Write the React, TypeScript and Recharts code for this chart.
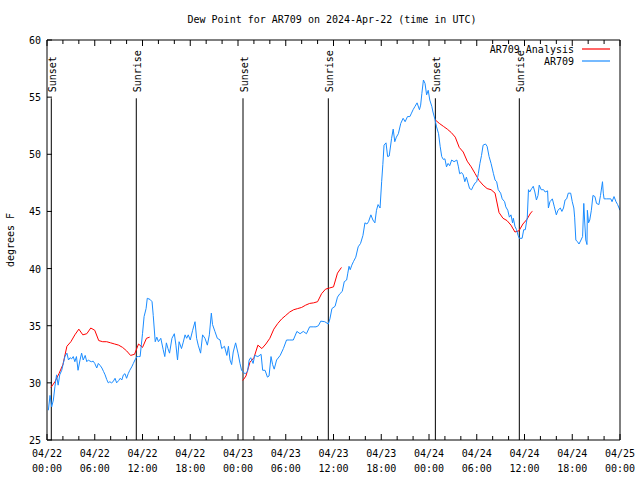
import { LineChart, Line, XAxis, YAxis, ReferenceLine } from 'recharts'

// hours since 04/22 00:00 UTC
const blueHours = [
  0.17, 0.38, 0.59, 0.8, 1.0, 1.2, 1.4, 1.6, 1.85, 2.05, 2.25, 2.5, 2.7, 2.9, 3.1, 3.3, 3.5, 3.7, 3.9, 4.15,
  4.35, 4.55, 4.8, 5.0, 5.2, 5.4, 5.6, 5.8, 6.0, 6.25, 6.45, 6.7, 6.9, 7.1, 7.3, 7.5, 7.7, 7.9, 8.1, 8.3,
  8.55, 8.75, 9.0, 9.2, 9.4, 9.6, 9.8, 10.0, 10.2, 10.4, 10.65, 10.85, 11.05, 11.3, 11.5, 11.7, 12.0, 12.2, 12.45, 12.6,
  12.95, 13.2, 13.35, 13.6, 13.8, 14.0, 14.3, 14.6, 14.8, 15.0, 15.2, 15.4, 15.7, 16.0, 16.2, 16.4, 16.6, 16.9, 17.1, 17.35,
  17.55, 17.75, 18.0, 18.3, 18.6, 18.8, 19.0, 19.3, 19.55, 19.85, 20.15, 20.4, 20.65, 20.8, 21.1, 21.4, 21.75, 21.95, 22.3, 22.6,
  22.8, 23.0, 23.2, 23.4, 23.7, 24.0, 24.25, 24.45, 24.7, 24.9, 25.2, 25.4, 25.6, 25.9, 26.1, 26.5, 26.9, 27.1, 27.4, 27.7,
  27.9, 28.15, 28.35, 28.55, 28.85, 29.3, 29.7, 30.1, 30.5, 30.95, 31.4, 31.8, 32.2, 32.6, 33.0, 33.45, 33.8, 34.1, 34.4, 34.9,
  35.35, 35.55, 35.8, 36.2, 36.5, 36.8, 37.1, 37.35, 37.65, 37.8, 37.95, 38.1, 38.3, 38.5, 38.8, 39.1, 39.4, 39.7, 39.95, 40.2,
  40.4, 40.7, 40.95, 41.2, 41.4, 41.6, 41.85, 42.05, 42.2, 42.35, 42.6, 42.8, 43.0, 43.3, 43.5, 43.7, 43.9, 44.15, 44.45, 44.75,
  45.0, 45.3, 45.6, 45.8, 46.0, 46.25, 46.5, 46.8, 46.95, 47.1, 47.3, 47.5, 47.7, 47.9, 48.1, 48.35, 48.5, 48.75, 48.95, 49.2,
  49.4, 49.6, 49.8, 50.0, 50.2, 50.4, 50.6, 50.85, 51.15, 51.5, 51.7, 51.85, 52.1, 52.3, 52.5, 52.7, 52.9, 53.1, 53.35, 53.55,
  53.8, 54.0, 54.2, 54.4, 54.6, 54.8, 55.1, 55.3, 55.55, 55.8, 56.1, 56.3, 56.5, 56.7, 57.0, 57.2, 57.5, 57.65, 57.9, 58.1,
  58.3, 58.5, 58.6, 58.8, 59.0, 59.2, 59.35, 59.7, 59.9, 60.1, 60.35, 60.5, 60.65, 60.9, 61.1, 61.3, 61.5, 61.7, 61.85, 62.1,
  62.4, 62.6, 62.9, 63.0, 63.2, 63.5, 63.75, 64.0, 64.2, 64.5, 64.7, 64.9, 65.1, 65.3, 65.5, 65.8, 66.0, 66.2, 66.3, 66.45,
  66.65, 66.85, 67.1, 67.3, 67.45, 67.55, 67.7, 67.85, 67.9, 68.05, 68.2, 68.4, 68.6, 68.85, 69.05, 69.35, 69.55, 69.8, 69.9, 70.0,
  70.3, 70.85, 71.0, 71.25, 71.5, 71.7, 72.0,
]
const blueValues = [
  27.6, 28.9, 27.9, 28.5, 29.7, 30.7, 29.8, 30.7, 31.1, 31.7, 32.3, 32.6, 32.0, 32.2, 32.1, 32.3, 31.85, 32.3, 31.1, 32.0,
  32.6, 32.0, 32.4, 31.85, 32.0, 31.9, 31.85, 31.9, 31.7, 31.3, 31.7, 31.5, 31.3, 31.0, 30.7, 30.3, 30.0, 30.1, 30.0, 30.1,
  30.4, 30.0, 30.2, 30.4, 30.25, 30.7, 30.8, 30.4, 30.8, 31.1, 31.4, 31.7, 32.0, 32.3, 32.3, 32.3, 34.3, 35.8, 36.5, 37.4,
  37.3, 37.1, 35.9, 33.6, 34.0, 33.6, 33.9, 32.9, 32.3, 33.5, 33.0, 32.6, 33.9, 34.3, 33.3, 32.0, 33.6, 33.0, 33.5, 34.2,
  33.9, 34.2, 33.75, 34.6, 35.35, 33.9, 33.3, 32.6, 34.2, 33.9, 33.3, 34.2, 36.1, 35.1, 34.5, 33.9, 33.75, 33.0, 33.2, 32.4,
  33.2, 32.0, 31.6, 32.7, 33.5, 32.6, 31.7, 31.1, 30.9, 30.8, 31.0, 32.0, 32.2, 31.7, 32.4, 32.3, 32.5, 31.1, 31.1, 30.5,
  30.6, 32.3, 31.6, 31.2, 32.0, 32.4, 33.0, 33.75, 33.75, 33.75, 34.5, 34.3, 34.5, 34.3, 34.9, 34.9, 34.9, 35.0, 35.4, 35.35,
  35.15, 35.6, 36.5, 36.7, 37.5, 37.8, 38.0, 38.85, 39.0, 39.6, 40.2, 39.9, 40.3, 40.6, 41.0, 41.9, 42.2, 42.9, 44.0, 43.9,
  44.1, 44.7, 44.25, 44.0, 45.1, 45.6, 45.3, 47.6, 49.1, 50.8, 51.0, 49.8, 49.85, 51.4, 52.2, 51.1, 51.5, 51.8, 52.7, 53.15,
  52.85, 53.3, 53.3, 53.6, 53.9, 54.2, 54.5, 53.9, 54.3, 55.3, 56.5, 56.2, 55.2, 55.6, 54.75, 54.2, 53.7, 53.05, 52.4, 51.8,
  50.7, 49.8, 49.55, 49.6, 48.9, 49.2, 49.0, 49.5, 49.35, 49.5, 48.9, 48.3, 48.4, 48.2, 47.6, 48.0, 47.5, 47.0, 46.9, 47.2,
  47.5, 47.6, 48.3, 49.2, 49.9, 50.8, 50.9, 50.7, 49.8, 49.2, 48.3, 47.75, 47.6, 46.9, 46.6, 46.1, 45.85, 45.4, 45.1, 44.5,
  44.7, 44.0, 44.4, 43.7, 43.4, 42.9, 42.65, 42.65, 43.4, 43.4, 44.5, 46.9, 46.7, 47.0, 47.2, 46.7, 46.0, 46.4, 47.3, 46.9,
  46.9, 46.7, 46.8, 45.3, 45.85, 46.1, 45.4, 44.7, 45.1, 45.3, 45.0, 45.3, 46.0, 46.1, 46.6, 46.6, 45.85, 45.3, 44.5, 42.5,
  42.35, 42.15, 42.5, 42.8, 45.7, 44.25, 42.5, 42.1, 45.1, 44.0, 44.25, 45.1, 46.4, 46.3, 45.7, 45.6, 46.4, 47.6, 46.6, 46.1,
  46.1, 46.1, 45.85, 46.3, 45.85, 45.6, 45.1,
]

// analysis runs start at each sunset; null breaks the line between runs
const redHours = [
  0.5, 1.0, 1.5, 2.0, 2.5, 3.0, 3.5, 4.0, 4.5, 5.0, 5.5, 6.0, 6.5, 7.0, 7.5, 8.0, 8.5, 9.0, 9.5, 10.0, 10.5, 11.0, 11.5, 12.0, 12.5, 12.9,
  18.0,
  24.6, 25.0, 25.5, 26.0, 26.5, 27.0, 27.5, 28.0, 28.5, 29.0, 29.5, 30.0, 30.5, 31.0, 31.5, 32.0, 32.5, 33.0, 33.5, 34.0, 34.5, 35.0, 35.5, 36.0, 36.5, 37.0,
  42.0,
  48.8, 49.3, 49.8, 50.3, 50.8, 51.3, 51.8, 52.3, 52.8, 53.3, 53.8, 54.3, 54.8, 55.3, 55.8, 56.3, 56.8, 57.3, 57.8, 58.3, 58.8, 59.3, 59.8, 60.3, 60.8, 61.0,
]
const redValues = [
  29.6, 30.1, 30.8, 31.6, 33.2, 33.6, 34.2, 34.7, 34.2, 34.3, 34.8, 34.6, 33.7, 33.6, 33.6, 33.5, 33.4, 33.3, 33.1, 32.8, 32.4, 32.5, 33.4, 33.1, 33.9, 34.0,
  null,
  30.2, 30.6, 31.8, 32.2, 33.3, 33.0, 33.4, 33.9, 34.7, 35.2, 35.6, 35.9, 36.2, 36.4, 36.5, 36.6, 36.8, 36.95, 37.0, 37.1, 37.8, 38.2, 38.3, 38.4, 39.6, 40.1,
  null,
  53.0, 52.7, 52.45, 52.2, 51.9, 51.5, 50.6, 50.2, 49.4, 48.9, 48.3, 47.7, 47.3, 47.0, 46.9, 46.6, 44.9, 44.4, 44.2, 43.8, 43.2, 43.3, 43.9, 44.3, 44.9, 45.0,
]

const sunHours = [0.54, 11.22, 24.63, 35.35, 48.8, 59.35]
const sunLabels = ['Sunset', 'Sunrise', 'Sunset', 'Sunrise', 'Sunset', 'Sunrise']
const sunLineTop = 54.9

const xTicks = [0, 2, 4, 6, 8, 10, 12, 14, 16, 18, 20, 22, 24, 26, 28, 30, 32, 34, 36, 38, 40, 42, 44, 46, 48, 50, 52, 54, 56, 58, 60, 62, 64, 66, 68, 70, 72]
const tickDates = ['04/22', '04/22', '04/22', '04/22', '04/23', '04/23', '04/23', '04/23', '04/24', '04/24', '04/24', '04/24', '04/25']
const tickTimes = ['00:00', '06:00', '12:00', '18:00', '00:00', '06:00', '12:00', '18:00', '00:00', '06:00', '12:00', '18:00', '00:00']
const yTicks = [25, 30, 35, 40, 45, 50, 55, 60]

const seriesNames = ['AR709 Analysis', 'AR709']
const seriesColors = ['#ff0000', '#1a8cff']

const FONT = "'DejaVu Sans Mono', monospace"

const blueData = blueHours.map((h, i) => ({ h, v: blueValues[i] }))
const redData = redHours.map((h, i) => ({ h, v: redValues[i] }))

function BottomTick({ x = 0, y = 0, payload }: any) {
  const val = payload?.value ?? 0
  const major = val % 6 === 0
  const idx = val / 6
  return (
    <g>
      <line x1={x} y1={y} x2={x} y2={y - (major ? 6 : 4)} stroke="#000" />
      {major && (
        <text x={x} y={y + 17} textAnchor="middle" fontFamily={FONT} fontSize={10} fill="#000">
          {tickDates[idx]}
        </text>
      )}
      {major && (
        <text x={x} y={y + 32} textAnchor="middle" fontFamily={FONT} fontSize={10} fill="#000">
          {tickTimes[idx]}
        </text>
      )}
    </g>
  )
}

function TopTick({ x = 0, y = 0, payload }: any) {
  const major = (payload?.value ?? 0) % 6 === 0
  return <line x1={x} y1={y} x2={x} y2={y + (major ? 6 : 4)} stroke="#000" />
}

function LeftTick({ x = 0, y = 0, payload }: any) {
  return (
    <g>
      <line x1={x} y1={y} x2={x + 5} y2={y} stroke="#000" />
      <text x={x - 6} y={y + 4} textAnchor="end" fontFamily={FONT} fontSize={10} fill="#000">
        {payload?.value}
      </text>
    </g>
  )
}

function RightTick({ x = 0, y = 0 }: any) {
  return <line x1={x} y1={y} x2={x - 5} y2={y} stroke="#000" />
}

function SunLabel({ viewBox, text }: any) {
  const x = viewBox?.x ?? 0
  const y = viewBox?.y ?? 0
  return (
    <text
      transform={`translate(${x + 5},${y - 6}) rotate(-90)`}
      textAnchor="start"
      fontFamily={FONT}
      fontSize={10}
      fill="#000"
    >
      {text}
    </text>
  )
}

const axisCommon = {
  tickSize: 0,
  tickMargin: 0,
  tickLine: false,
  axisLine: { stroke: '#000' },
  interval: 0 as const,
}

export default function App() {
  return (
    <div style={{ position: 'absolute', left: 0, top: 0, width: 640, height: 480, background: '#fff' }}>
      <LineChart width={640} height={480} data={blueData} margin={{ top: 39, right: 19, bottom: 39, left: 46 }}>
        <XAxis
          xAxisId={0}
          type="number"
          dataKey="h"
          domain={[0, 72]}
          ticks={xTicks}
          allowDataOverflow
          height={1}
          tick={<BottomTick />}
          {...axisCommon}
        />
        <XAxis
          xAxisId="top"
          orientation="top"
          type="number"
          dataKey="h"
          domain={[0, 72]}
          ticks={xTicks}
          height={1}
          tick={<TopTick />}
          {...axisCommon}
        />
        <YAxis
          yAxisId={0}
          type="number"
          domain={[25, 60]}
          ticks={yTicks}
          width={1}
          tick={<LeftTick />}
          {...axisCommon}
        />
        <YAxis
          yAxisId="right"
          orientation="right"
          type="number"
          domain={[25, 60]}
          ticks={yTicks}
          width={1}
          tick={<RightTick />}
          {...axisCommon}
        />
        {sunHours.map((h, i) => (
          <ReferenceLine
            key={`sun-${i}`}
            xAxisId={0}
            yAxisId={0}
            segment={[{ x: h, y: 25 }, { x: h, y: sunLineTop }]}
            stroke="#000"
            strokeWidth={1}
            label={<SunLabel text={sunLabels[i]} />}
          />
        ))}
        <Line
          xAxisId={0}
          yAxisId={0}
          data={redData}
          dataKey="v"
          type="linear"
          stroke={seriesColors[0]}
          strokeWidth={1}
          dot={false}
          activeDot={false}
          isAnimationActive={false}
        />
        <Line
          xAxisId={0}
          yAxisId={0}
          data={blueData}
          dataKey="v"
          type="linear"
          stroke={seriesColors[1]}
          strokeWidth={1}
          dot={false}
          activeDot={false}
          isAnimationActive={false}
        />
      </LineChart>
      <svg
        width={640}
        height={480}
        style={{ position: 'absolute', left: 0, top: 0, pointerEvents: 'none' }}
      >
        <text x={332} y={23} textAnchor="middle" fontFamily={FONT} fontSize={10} fill="#000">
          Dew Point for AR709 on 2024-Apr-22 (time in UTC)
        </text>
        <text
          transform="translate(14,240) rotate(-90)"
          textAnchor="middle"
          fontFamily={FONT}
          fontSize={10}
          fill="#000"
        >
          degrees F
        </text>
        {seriesNames.map((name, i) => (
          <g key={name}>
            <text x={574} y={53 + i * 12} textAnchor="end" fontFamily={FONT} fontSize={10} fill="#000">
              {name}
            </text>
            <line x1={582} y1={49 + i * 12} x2={610} y2={49 + i * 12} stroke={seriesColors[i]} strokeWidth={1.2} />
          </g>
        ))}
      </svg>
    </div>
  )
}
